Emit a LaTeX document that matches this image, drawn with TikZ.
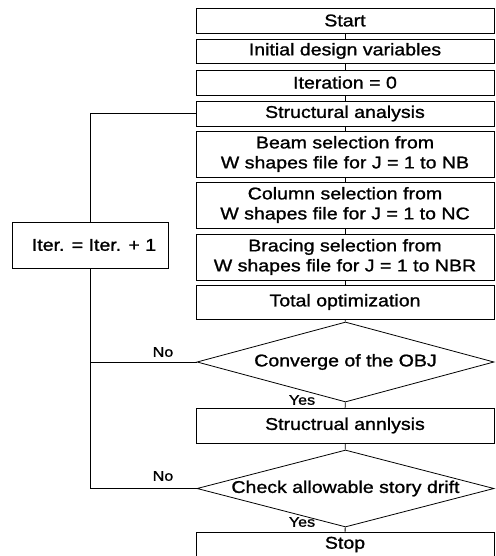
\documentclass[tikz,border=0pt]{standalone}
\usepackage{fontspec}
\setmainfont{Liberation Sans}[FakeStretch=1.15,FakeBold=1.2]
\usetikzlibrary{shapes.geometric}
\begin{document}
\begin{tikzpicture}[x=1pt,y=-1pt,line width=0.8pt,
  box/.style={draw,minimum width=298pt,inner sep=0pt,align=center,
    font=\fontsize{17}{20}\selectfont},
  dec/.style={draw,diamond,aspect=3.8,inner sep=0pt,minimum width=297pt,
    font=\fontsize{17}{20}\selectfont},
  lab/.style={inner sep=0pt,font=\fontsize{14}{16}\selectfont},
  link/.style={draw}]
\useasboundingbox (0,0) rectangle (495,556);
\node[box,minimum height=25pt] (start) at (345,20.5) {Start};
\node[box,minimum height=24pt] (init) at (345,51) {Initial design variables};
\node[box,minimum height=25pt] (it0) at (345,82.5) {Iteration = 0};
\node[box,minimum height=25pt] (sa) at (345,113.5) {Structural analysis};
\node[box,minimum height=46pt] (beam) at (345,154) {Beam selection from\\W shapes file for J = 1 to NB};
\node[box,minimum height=46pt] (col) at (345,205) {Column selection from\\W shapes file for J = 1 to NC};
\node[box,minimum height=46pt] (brac) at (345,257) {Bracing selection from\\W shapes file for J = 1 to NBR};
\node[box,minimum height=34pt] (tot) at (345,302) {Total optimization};
\node[dec,minimum height=80pt] (conv) at (345.5,362) {Converge of the OBJ};
\node[box,minimum height=35pt] (sa2) at (345,425.5) {Structrual annlysis};
\node[dec,minimum height=77pt] (drift) at (345.5,488.5) {Check allowable story drift};
\node[box,minimum height=25pt] (stop) at (345,544.5) {Stop};
\node[box,minimum width=156pt,minimum height=46pt] (iter) at (90,245) {\hspace*{8pt}Iter. = Iter. + 1};
\draw (start) -- (init);
\draw (init) -- (it0);
\draw (it0) -- (sa);
\draw (sa) -- (beam);
\draw (beam) -- (col);
\draw (col) -- (brac);
\draw (brac) -- (tot);
\draw (tot) -- (conv);
\draw (conv) -- (sa2);
\draw (sa2) -- (drift);
\draw (drift) -- (stop);
\draw (conv.west) -- (conv.west -| iter.south) -- (iter.south);
\draw (drift.west) -- (drift.west -| iter.south) -- (iter.south);
\draw (iter.north) -- (iter.north |- sa.west) -- (sa.west);
\node[lab] (no1) at (163,352) {No};
\node[lab] (no2) at (163,476) {No};
\node[lab] (yes1) at (302,400) {Yes};
\node[lab] (yes2) at (302,522) {Yes};
\end{tikzpicture}
\end{document}
